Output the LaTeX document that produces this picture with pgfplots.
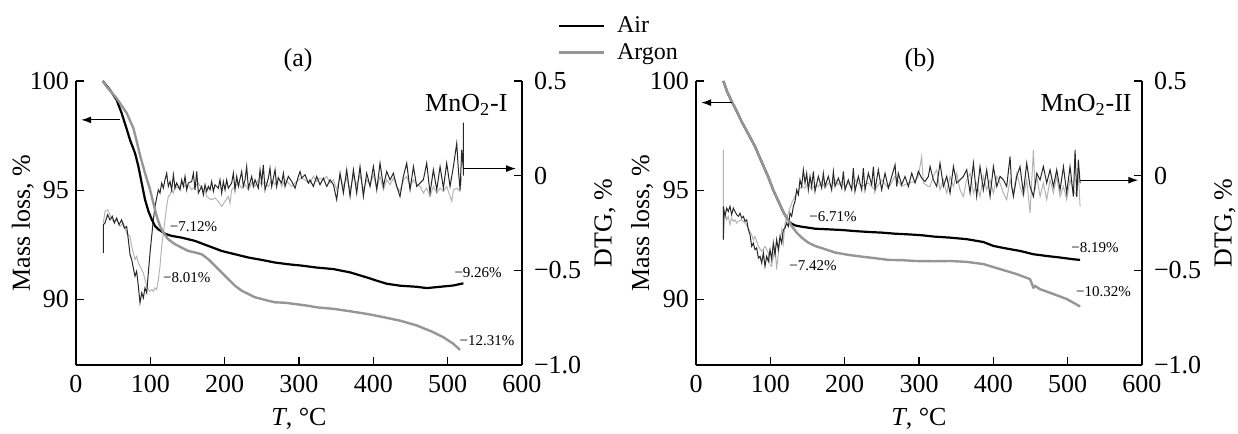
\documentclass[border=0pt]{standalone}
\usepackage{fontspec}
\setmainfont{Liberation Serif}
\usepackage{pgfplots}
\pgfplotsset{compat=1.18}
\usetikzlibrary{arrows.meta}
\definecolor{argTG}{RGB}{150,150,150}
\definecolor{argDTG}{RGB}{180,180,180}
\definecolor{airDTG}{RGB}{40,40,40}
\tikzset{
  ann/.style={font=\fontsize{7.5}{9}\selectfont, inner sep=0pt},
  big/.style={font=\fontsize{13}{15}\selectfont, inner sep=0pt},
}
\pgfplotsset{
  base/.style={scale only axis, width=223pt, height=142pt, xmin=0, xmax=600, clip=false,
    tick align=inside, major tick length=4pt,
    axis line style={line width=0.6pt},
    every tick/.style={black, line width=0.6pt},
    tick label style={font=\fontsize{13}{15}\selectfont},
    label style={font=\fontsize{13}{15}\selectfont}},
  tg/.style={base, ymin=87, ymax=100, axis x line*=bottom, axis y line*=left,
    xtick={0,100,200,300,400,500,600}, xticklabels={0,100,200,300,400,500,600},
    xticklabel style={yshift=-1.5pt},
    ytick={90,95,100}, yticklabels={90,95,100},
    xlabel={\textit{T}, °C}, ylabel={Mass loss, \%},
    xlabel style={at={(axis description cs:0.5,-0.19)}, anchor=center},
    ylabel style={at={(axis description cs:-0.119,0.5)}, anchor=center},
    legend style={at={(axis description cs:1.079,1.229)}, anchor=north west, draw=none, fill=none,
      inner sep=0pt, font=\fontsize{12}{12}\selectfont, row sep=4pt,
      nodes={inner sep=0pt},
      /tikz/every odd column/.append style={column sep=6pt}},
    legend cell align=left,
    legend image code/.code={\draw[#1] (0pt,0pt) -- (22.5pt,0pt);}},
  dtg/.style={base, ymin=-1, ymax=0.5, axis y line*=right, axis x line=none,
    ytick={-1,-0.5,0,0.5}, yticklabels={−1.0,−0.5,0,0.5},
    yticklabel style={xshift=2.5pt},
    ylabel={DTG, \%},
    ylabel style={at={(axis description cs:1.186,0.5)}, anchor=center}},
  air/.style={black, line width=1.1pt},
  argon/.style={argTG, line width=1.2pt},
  dair/.style={airDTG, line width=0.5pt},
  dargon/.style={argDTG, line width=0.5pt},
}
\begin{document}
\begin{tikzpicture}
\path[use as bounding box] (0,0) rectangle (619pt,217pt);
% ---------------- panel (a) DTG
\begin{axis}[dtg, at={(38pt,34.5pt)}, anchor=south west]
\addplot[dargon] coordinates {(36.8,-0.250)(39.0,-0.189)(42.6,-0.180)(45.7,-0.206)(50.2,-0.241)(54.7,-0.233)(59.2,-0.268)(63.7,-0.250)(68.2,-0.303)(72.7,-0.321)(74.9,-0.373)(77.1,-0.408)(79.4,-0.443)(81.6,-0.426)(83.9,-0.461)(86.1,-0.479)(88.4,-0.496)(90.6,-0.514)(92.8,-0.549)(95.1,-0.584)(97.3,-0.602)(99.6,-0.610)(101.8,-0.602)(104.0,-0.610)(106.3,-0.593)(108.5,-0.602)(110.8,-0.549)(113.0,-0.479)(115.3,-0.373)(117.5,-0.303)(119.7,-0.233)(122.0,-0.162)(124.2,-0.110)(126.5,-0.101)(128.7,-0.075)(131.0,-0.092)(133.2,-0.057)(137.7,-0.066)(142.2,-0.039)(146.7,-0.057)(151.1,-0.048)(155.6,-0.075)(160.1,-0.057)(164.6,-0.039)(169.1,-0.066)(173.6,-0.075)(175.8,-0.110)(178.0,-0.118)(182.5,-0.127)(187.0,-0.118)(191.5,-0.136)(196.0,-0.162)(200.5,-0.136)(204.9,-0.110)(207.2,-0.145)(209.4,-0.075)(213.9,-0.057)(218.4,-0.039)(222.9,-0.066)(227.4,-0.048)(231.9,-0.075)(236.4,-0.039)(240.8,-0.057)(245.3,-0.022)(249.8,-0.048)(254.3,-0.031)(258.8,-0.057)(263.3,-0.022)(267.8,-0.048)(272.2,-0.004)(276.7,-0.057)(281.2,-0.022)(285.7,-0.039)(290.2,-0.057)(294.7,-0.039)(299.1,-0.022)(303.6,-0.013)(308.1,-0.022)(312.6,-0.039)(314.9,-0.039)(319.3,-0.004)(323.8,-0.030)(328.3,-0.013)(332.8,-0.022)(337.3,-0.004)(341.8,-0.039)(346.3,-0.022)(350.7,-0.075)(355.2,-0.004)(359.7,-0.057)(364.2,-0.013)(368.7,-0.075)(373.2,-0.004)(377.6,-0.048)(382.1,0.005)(386.6,-0.075)(391.1,-0.022)(395.6,-0.048)(400.1,0.005)(404.6,-0.066)(409.0,-0.004)(413.5,-0.075)(418.0,-0.022)(422.5,-0.048)(427.0,-0.013)(431.5,-0.057)(435.9,-0.083)(440.4,-0.022)(444.9,-0.004)(449.4,-0.057)(453.9,-0.022)(458.4,-0.048)(462.9,-0.057)(467.3,-0.092)(471.8,-0.066)(476.3,-0.110)(480.8,-0.057)(485.3,-0.092)(489.8,-0.066)(494.3,-0.083)(498.7,-0.057)(503.2,-0.110)(505.5,-0.136)(507.7,-0.075)(512.2,-0.066)(516.7,-0.083)(518.9,-0.004)};
\addplot[dair] coordinates {(36.8,-0.408)(36.8,-0.259)(39.0,-0.250)(42.6,-0.206)(45.7,-0.233)(48.9,-0.215)(51.6,-0.250)(54.7,-0.224)(57.9,-0.259)(61.4,-0.233)(65.0,-0.277)(68.2,-0.268)(70.4,-0.338)(72.7,-0.417)(74.9,-0.443)(77.1,-0.487)(79.4,-0.531)(81.6,-0.505)(83.9,-0.584)(86.1,-0.672)(88.4,-0.619)(90.6,-0.646)(92.8,-0.593)(95.1,-0.619)(97.3,-0.514)(99.6,-0.408)(101.8,-0.321)(104.0,-0.233)(106.3,-0.162)(108.5,-0.118)(110.8,-0.075)(113.0,-0.092)(115.3,-0.039)(117.5,-0.066)(119.7,-0.022)(122.0,0.013)(124.2,-0.057)(126.5,-0.031)(128.7,-0.075)(131.0,0.005)(133.2,-0.066)(135.4,-0.039)(139.9,-0.075)(142.2,-0.022)(144.4,-0.057)(146.7,-0.004)(148.9,-0.075)(151.1,-0.039)(155.6,-0.031)(157.9,0.013)(160.1,-0.075)(162.4,0.022)(164.6,-0.092)(169.1,-0.057)(171.3,-0.101)(173.6,-0.048)(175.8,-0.083)(178.0,-0.057)(180.3,-0.075)(182.5,-0.031)(184.8,-0.083)(187.0,-0.048)(191.5,-0.066)(193.7,-0.022)(196.0,-0.092)(198.2,-0.031)(200.5,-0.075)(202.7,-0.022)(204.9,-0.066)(209.4,-0.039)(211.7,0.013)(213.9,-0.075)(216.2,-0.004)(218.4,-0.057)(222.9,0.022)(225.1,-0.057)(227.4,-0.022)(229.6,0.048)(231.9,-0.066)(236.4,-0.004)(238.6,-0.057)(240.8,-0.022)(245.3,-0.066)(247.6,0.031)(249.8,-0.039)(252.0,0.057)(254.3,-0.075)(258.8,-0.013)(261.0,0.040)(263.3,-0.057)(267.8,0.031)(270.0,-0.057)(272.2,-0.013)(276.7,-0.039)(279.0,0.013)(281.2,-0.057)(285.7,-0.004)(290.2,-0.031)(294.7,-0.066)(299.1,-0.004)(301.4,0.022)(303.6,-0.013)(308.1,0.005)(312.6,-0.039)(314.9,-0.022)(319.3,-0.057)(323.8,-0.004)(328.3,-0.048)(332.8,-0.013)(337.3,-0.057)(341.8,-0.022)(346.3,-0.048)(350.7,-0.127)(355.2,0.013)(359.7,-0.092)(364.2,0.031)(368.7,-0.110)(373.2,0.031)(377.6,-0.092)(382.1,0.048)(386.6,-0.110)(391.1,0.013)(395.6,-0.057)(400.1,0.048)(404.6,-0.075)(409.0,0.066)(413.5,-0.057)(418.0,0.022)(422.5,-0.022)(427.0,0.013)(431.5,-0.057)(435.9,-0.110)(440.4,-0.004)(444.9,0.066)(449.4,-0.075)(453.9,0.048)(458.4,-0.057)(462.9,-0.039)(467.3,-0.022)(471.8,0.066)(476.3,-0.092)(480.8,0.031)(485.3,-0.075)(489.8,0.048)(494.3,-0.066)(498.7,0.066)(503.2,-0.057)(507.7,0.048)(512.2,0.171)(514.4,0.031)(516.7,-0.075)(518.9,0.136)(521.2,0.031)(521.2,0.28)(521.2,0.0)};
\end{axis}
% ---------------- panel (a) TG
\begin{axis}[tg, at={(38pt,34.5pt)}, anchor=south west]
\addplot[air] coordinates {(36,100.0)(45.7,99.59)(54.7,99.13)(61.4,98.53)(68.2,97.8)(72.7,97.3)(79.4,96.70)(83.9,96.10)(88.3,95.34)(92.8,94.58)(97.3,94.05)(101.8,93.67)(106.3,93.36)(110.8,93.21)(119.7,93.01)(128.7,92.91)(142.2,92.83)(160.1,92.68)(178.0,92.45)(196.0,92.22)(213.9,92.07)(231.9,91.92)(249.8,91.81)(267.8,91.69)(285.7,91.61)(303.6,91.55)(323.8,91.46)(346.3,91.39)(368.7,91.24)(391.1,91.01)(404.6,90.86)(418.0,90.72)(436.0,90.63)(458.4,90.58)(471.8,90.52)(489.8,90.58)(507.7,90.64)(521.2,90.74)};
\addlegendentry{Air}
\addplot[argon] coordinates {(36,100.0)(41.3,99.74)(54.7,99.21)(68.2,98.53)(77.1,97.85)(82,97.2)(86.1,96.6)(92.8,95.79)(99.6,95.03)(104.0,94.42)(108.5,93.82)(113.0,93.36)(117.5,93.06)(124.2,92.75)(133.2,92.53)(142.2,92.37)(151.1,92.22)(160.1,92.15)(169.1,92.07)(178.0,91.84)(187.0,91.54)(196.0,91.23)(204.9,90.93)(213.9,90.63)(222.9,90.40)(231.9,90.25)(240.8,90.10)(249.8,90.02)(258.8,89.94)(267.8,89.87)(281.2,89.85)(294.7,89.79)(312.6,89.71)(323.8,89.64)(346.3,89.57)(368.7,89.46)(391.1,89.34)(413.5,89.19)(436.0,89.03)(458.4,88.81)(480.8,88.50)(494.3,88.27)(507.7,87.97)(516.7,87.69)};
\addlegendentry{Argon}
\node[ann] at (axis cs:158,93.32) {−7.12\%};
\node[ann] at (axis cs:149,90.98) {−8.01\%};
\node[ann] at (axis cs:541,91.25) {−9.26\%};
\node[ann] at (axis cs:553,88.1) {−12.31\%};
\node[big, anchor=east] at (axis cs:581,98.9) {MnO\textsubscript{2}-I};
\node[big] at (axis description cs:0.498,1.074) {(a)};
\draw[-{Latex[length=5pt,width=3.5pt]}, line width=0.6pt] (axis cs:59,98.22) -- (axis cs:7,98.22);
\draw[-{Latex[length=5pt,width=3.5pt]}, line width=0.6pt] (axis cs:521,95.99) -- (axis cs:592,95.99);
\end{axis}
% ---------------- panel (b) DTG
\begin{axis}[dtg, at={(348pt,34.5pt)}, anchor=south west]
\addplot[dargon] coordinates {(36.8,0.136)(36.8,-0.338)(39.0,-0.198)(41.3,-0.233)(43.5,-0.215)(45.7,-0.259)(48.0,-0.224)(50.2,-0.241)(52.5,-0.233)(54.7,-0.250)(57.0,-0.241)(61.4,-0.233)(65.9,-0.250)(70.4,-0.277)(74.9,-0.312)(77.1,-0.338)(79.4,-0.321)(83.9,-0.373)(88.4,-0.400)(92.8,-0.373)(97.3,-0.408)(99.6,-0.470)(101.8,-0.479)(104.0,-0.426)(106.3,-0.373)(108.5,-0.496)(110.8,-0.408)(113.0,-0.338)(115.3,-0.285)(117.5,-0.356)(119.7,-0.250)(124.2,-0.198)(128.7,-0.145)(133.2,-0.110)(137.7,-0.075)(142.2,-0.057)(146.7,-0.066)(151.1,-0.039)(155.6,-0.075)(160.1,-0.048)(164.6,-0.057)(169.1,-0.031)(173.6,-0.066)(178.0,-0.039)(182.5,-0.057)(187.0,-0.022)(191.5,-0.048)(196.0,-0.031)(200.5,-0.057)(204.9,-0.039)(209.4,-0.066)(213.9,-0.022)(222.9,-0.057)(231.9,-0.039)(240.8,-0.075)(249.8,-0.022)(258.8,-0.066)(267.8,-0.004)(276.7,-0.057)(285.7,-0.039)(294.7,-0.031)(299.1,-0.004)(303.6,0.101)(305.9,-0.039)(312.6,-0.057)(314.9,-0.057)(319.3,-0.004)(323.8,0.031)(328.3,-0.075)(332.8,-0.022)(337.3,-0.092)(341.8,-0.004)(346.3,-0.057)(350.7,0.013)(355.2,-0.075)(359.7,-0.110)(364.2,-0.022)(368.7,0.013)(373.2,-0.092)(377.6,-0.039)(382.1,-0.110)(386.6,-0.004)(391.1,-0.075)(395.6,-0.022)(400.1,-0.092)(404.6,-0.004)(409.0,-0.039)(413.5,-0.092)(418.0,-0.127)(422.5,-0.022)(427.0,-0.092)(431.5,0.013)(435.9,-0.057)(440.4,-0.110)(444.9,-0.022)(449.4,-0.197)(453.9,0.136)(456.1,-0.075)(458.4,-0.004)(462.9,-0.110)(467.3,-0.039)(471.8,-0.127)(476.3,-0.022)(480.8,-0.092)(485.3,-0.004)(489.8,-0.110)(494.3,-0.057)(498.7,-0.127)(503.2,-0.022)(507.7,-0.075)(512.2,-0.110)(514.4,0.013)(516.7,-0.162)};
\addplot[dair] coordinates {(36.8,-0.338)(36.8,-0.162)(39.0,-0.215)(41.3,-0.171)(43.5,-0.189)(45.7,-0.162)(48.0,-0.206)(50.2,-0.171)(52.5,-0.189)(54.7,-0.206)(57.0,-0.215)(59.2,-0.198)(61.4,-0.224)(63.7,-0.215)(65.9,-0.241)(68.2,-0.233)(70.4,-0.285)(72.7,-0.312)(74.9,-0.373)(77.1,-0.356)(79.4,-0.391)(81.6,-0.382)(83.9,-0.435)(86.1,-0.426)(88.4,-0.461)(90.6,-0.408)(92.8,-0.479)(95.1,-0.426)(97.3,-0.452)(99.6,-0.391)(101.8,-0.443)(104.0,-0.356)(106.3,-0.417)(108.5,-0.338)(110.8,-0.391)(113.0,-0.321)(115.3,-0.356)(117.5,-0.285)(119.7,-0.277)(122.0,-0.250)(124.2,-0.268)(126.5,-0.198)(128.7,-0.215)(131.0,-0.162)(133.2,-0.136)(135.4,-0.075)(137.7,-0.101)(139.9,-0.022)(142.2,-0.057)(144.4,0.031)(146.7,-0.039)(148.9,0.013)(151.1,-0.075)(153.4,-0.004)(155.6,-0.057)(157.9,0.022)(160.1,-0.083)(164.6,-0.004)(169.1,-0.066)(171.3,0.013)(173.6,-0.057)(178.0,-0.004)(182.5,-0.075)(184.8,0.022)(187.0,-0.057)(191.5,-0.013)(196.0,-0.066)(198.2,0.022)(200.5,-0.075)(204.9,-0.022)(209.4,-0.075)(211.7,0.040)(213.9,-0.083)(218.4,-0.004)(222.9,-0.075)(225.1,0.040)(227.4,-0.075)(231.9,0.013)(236.4,-0.048)(238.6,0.048)(240.8,-0.075)(245.3,0.031)(249.8,-0.075)(254.3,0.013)(258.8,-0.066)(263.3,-0.004)(267.8,0.057)(270.0,-0.057)(272.2,0.013)(276.7,-0.048)(281.2,-0.004)(285.7,-0.057)(290.2,0.013)(294.7,-0.039)(299.1,0.022)(303.6,-0.013)(308.1,-0.031)(312.6,-0.004)(314.9,0.048)(319.3,-0.022)(323.8,-0.057)(328.3,0.066)(332.8,-0.057)(337.3,-0.004)(341.8,-0.092)(346.3,0.048)(350.7,-0.039)(355.2,-0.022)(359.7,-0.004)(364.2,0.031)(368.7,-0.092)(373.2,0.066)(377.6,-0.110)(382.1,0.048)(386.6,-0.075)(391.1,0.031)(395.6,-0.110)(400.1,0.048)(404.6,-0.057)(409.0,-0.004)(413.5,-0.022)(418.0,-0.057)(422.5,0.101)(424.7,-0.057)(427.0,-0.110)(431.5,-0.004)(435.9,0.048)(440.4,-0.092)(444.9,0.066)(449.4,-0.057)(453.9,-0.110)(458.4,0.013)(462.9,-0.022)(467.3,0.048)(471.8,-0.039)(476.3,0.031)(480.8,-0.057)(485.3,0.031)(489.8,-0.075)(494.3,0.048)(498.7,-0.092)(503.2,0.048)(507.7,-0.110)(510.0,0.136)(512.2,-0.110)(514.4,0.084)(516.7,-0.039)};
\end{axis}
% ---------------- panel (b) TG
\begin{axis}[tg, at={(348pt,34.5pt)}, anchor=south west, ylabel style={at={(axis description cs:-0.121,0.5)}}]
\addplot[air] coordinates {(36.8,100.0)(42,99.5)(48.1,99.06)(55,98.6)(62,98.1)(70,97.6)(79.4,97.0)(88.3,96.3)(97.3,95.6)(104.0,95.0)(110.8,94.5)(117.5,94.0)(122.0,93.74)(126.5,93.51)(133.2,93.39)(142.2,93.33)(160.1,93.24)(178.0,93.21)(196.0,93.18)(213.9,93.13)(231.9,93.09)(249.8,93.06)(267.8,93.01)(285.7,92.98)(303.6,92.94)(319.4,92.88)(341.8,92.83)(364.2,92.76)(386.6,92.63)(400.1,92.45)(418.0,92.33)(436.0,92.22)(453.9,92.07)(471.8,91.99)(489.8,91.92)(507.7,91.84)(516.7,91.81)};
\addplot[argon] coordinates {(36.8,100.0)(42,99.5)(48.1,99.06)(55,98.6)(62,98.1)(70,97.6)(79.4,97.0)(88.3,96.3)(97.3,95.6)(104.0,95.0)(110.8,94.5)(117.5,94.0)(122.0,93.74)(128.7,93.36)(135.4,93.06)(142.2,92.83)(151.1,92.60)(160.1,92.45)(173.6,92.30)(187.0,92.15)(204.9,92.04)(222.9,91.96)(240.8,91.89)(258.8,91.81)(276.7,91.80)(294.7,91.76)(319.4,91.75)(341.8,91.76)(364.2,91.72)(386.6,91.62)(409.0,91.39)(431.5,91.16)(449.4,90.93)(453.9,90.55)(456.1,90.62)(462.9,90.47)(480.8,90.25)(498.7,90.02)(516.7,89.68)};
\node[ann] at (axis cs:184.3,93.78) {−6.71\%};
\node[ann] at (axis cs:157.4,91.57) {−7.42\%};
\node[ann] at (axis cs:536.8,92.39) {−8.19\%};
\node[ann] at (axis cs:548.2,90.38) {−10.32\%};
\node[big, anchor=east] at (axis cs:586.6,98.9) {MnO\textsubscript{2}-II};
\node[big] at (axis description cs:0.502,1.074) {(b)};
\draw[-{Latex[length=5pt,width=3.5pt]}, line width=0.6pt] (axis cs:48,99.01) -- (axis cs:7,99.01);
\draw[-{Latex[length=5pt,width=3.5pt]}, line width=0.6pt] (axis cs:517,95.46) -- (axis cs:595,95.46);
\end{axis}
\end{tikzpicture}
\end{document}
